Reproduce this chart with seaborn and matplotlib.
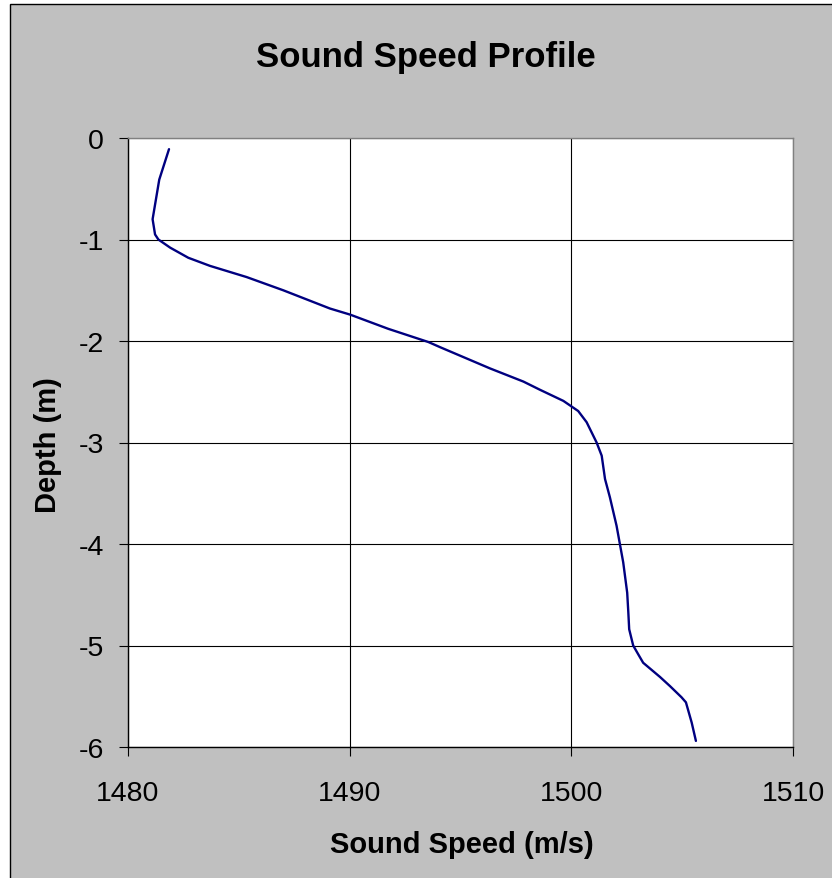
import matplotlib
matplotlib.use("Agg")
import matplotlib.pyplot as plt
from matplotlib.patches import Rectangle
import seaborn as sns
import pandas as pd

# ---- data ----
depth_m = [-0.11, -0.41, -0.80, -0.95, -1.00, -1.08, -1.18, -1.26, -1.37, -1.50,
           -1.68, -1.74, -1.88, -2.01, -2.06, -2.27, -2.40, -2.48, -2.59, -2.69,
           -2.80, -3.00, -3.13, -3.36, -3.54, -3.82, -4.00, -4.18, -4.48, -4.67,
           -4.84, -5.00, -5.08, -5.17, -5.31, -5.40, -5.51, -5.56, -5.76, -5.94]
sound_speed = [1481.85, 1481.41, 1481.11, 1481.22, 1481.37, 1481.90, 1482.72, 1483.70, 1485.35, 1487.00,
               1489.11, 1490.02, 1491.74, 1493.55, 1494.07, 1496.33, 1497.84, 1498.58, 1499.64, 1500.31,
               1500.69, 1501.14, 1501.37, 1501.52, 1501.74, 1502.04, 1502.19, 1502.34, 1502.52, 1502.57,
               1502.61, 1502.79, 1503.00, 1503.24, 1504.00, 1504.45, 1504.97, 1505.17, 1505.43, 1505.62]
x_ticks = [1480, 1490, 1500, 1510]
y_ticks = [0, -1, -2, -3, -4, -5, -6]
title = "Sound Speed Profile"
x_label = "Sound Speed (m/s)"
y_label = "Depth (m)"

df = pd.DataFrame({"speed": sound_speed, "depth": depth_m})

sns.set_style("white")
plt.rcParams["font.family"] = ["Liberation Sans", "DejaVu Sans"]

W, H = 832, 879
fig = plt.figure(figsize=(W / 100, H / 100), dpi=100)
fig.patch.set_facecolor("white")
bg = Rectangle((10 / W, -0.01), 1.0, (H - 5) / H + 0.01,
               transform=fig.transFigure, facecolor="#C0C0C0",
               edgecolor="black", linewidth=1.0, zorder=-10)
fig.patches.append(bg)

ax = fig.add_axes([128 / W, 1 - 748 / H, (793 - 128) / W, (748 - 139) / H])
ax.set_zorder(1)
ax.set_facecolor("white")

sns.lineplot(data=df, x="speed", y="depth", sort=False, estimator=None,
             color="#000080", linewidth=1.7, ax=ax)
ax.lines[0].set_solid_joinstyle("round")

ax.set_xlim(1480, 1510)
ax.set_ylim(-6, 0)
ax.set_xticks(x_ticks)
ax.set_yticks(y_ticks)
ax.set_xticklabels([str(v) for v in x_ticks])
ax.set_yticklabels([str(v) for v in y_ticks])
ax.set_xlabel("")
ax.set_ylabel("")

ax.grid(True, color="black", linewidth=0.8)
ax.set_axisbelow(True)
ax.tick_params(axis="both", which="major", direction="out", length=6.5, width=0.8,
               color="black", labelsize=20.5, labelcolor="black",
               bottom=True, left=True)
ax.tick_params(axis="x", pad=17)
ax.tick_params(axis="y", pad=11)

for side in ["left", "bottom"]:
    ax.spines[side].set_color("black")
    ax.spines[side].set_linewidth(1.0)
for side in ["top", "right"]:
    ax.spines[side].set_color("#808080")
    ax.spines[side].set_linewidth(1.0)

fig.text(425.5 / W, 1 - 66.7 / H, title, ha="center", va="baseline",
         fontsize=25, fontweight="bold", color="black")
fig.text(461.6 / W, 1 - 853.3 / H, x_label, ha="center", va="baseline",
         fontsize=21, fontweight="bold", color="black")
fig.text(56 / W, 1 - 445 / H, y_label, ha="center", va="baseline",
         rotation=90, rotation_mode="anchor",
         fontsize=21, fontweight="bold", color="black")

fig.savefig("out.png", dpi=100, facecolor=fig.get_facecolor())
